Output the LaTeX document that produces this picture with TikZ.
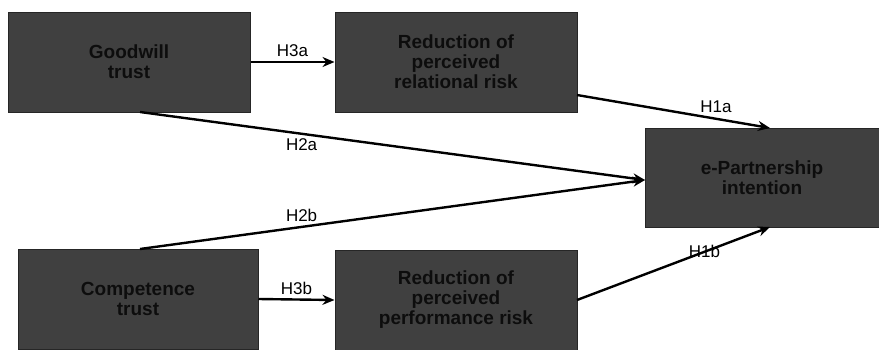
\documentclass[tikz,border=0pt]{standalone}
\usepackage{fontspec}
\setmainfont{Liberation Sans}
\usetikzlibrary{arrows.meta}
\begin{document}
\begin{tikzpicture}[x=1pt,y=-1pt,
  box/.style={draw=black!85,line width=1pt,fill=black!75,text=black!95,font=\fontsize{19}{20}\selectfont\bfseries,align=center,inner sep=0pt},
  arr/.style={line width=2.4pt,-{Stealth[length=12pt,width=10pt]}},
  lab/.style={font=\fontsize{17}{19}\selectfont,inner sep=1pt}]
\useasboundingbox (0,0) rectangle (879,349);
\node[box,minimum width=242pt,minimum height=100pt] (gt) at (129,62) {Goodwill\\trust};
\node[box,minimum width=242pt,minimum height=100pt] (rr) at (456,62) {Reduction of\\perceived\\relational risk};
\node[box,minimum width=234pt,minimum height=99pt] (ep) at (762,177.5) {e-Partnership\\intention};
\node[box,minimum width=240pt,minimum height=100pt] (ct) at (138,299) {Competence\\trust};
\node[box,minimum width=242pt,minimum height=100pt] (pr) at (456,300) {Reduction of\\perceived\\performance risk};
\coordinate (epT) at (770,128);
\coordinate (epB) at (770,227);
\coordinate (epL) at (645,180);
\draw[arr] (gt.east) -- (rr.west) node[lab,midway,above=3pt] {H3a};
\draw[arr] (577,95) -- (epT) node[lab,pos=0.72,above=4pt] {H1a};
\draw[arr] (140,112) -- (epL) node[lab,pos=0.32,below=3pt] {H2a};
\draw[arr] (140,249) -- (epL) node[lab,pos=0.32,above=3pt] {H2b};
\draw[arr] (ct.east) -- (pr.west) node[lab,midway,above=3pt] {H3b};
\draw[arr] (577,300) -- (epB) node[lab,pos=0.66] {H1b};
\end{tikzpicture}
\end{document}
